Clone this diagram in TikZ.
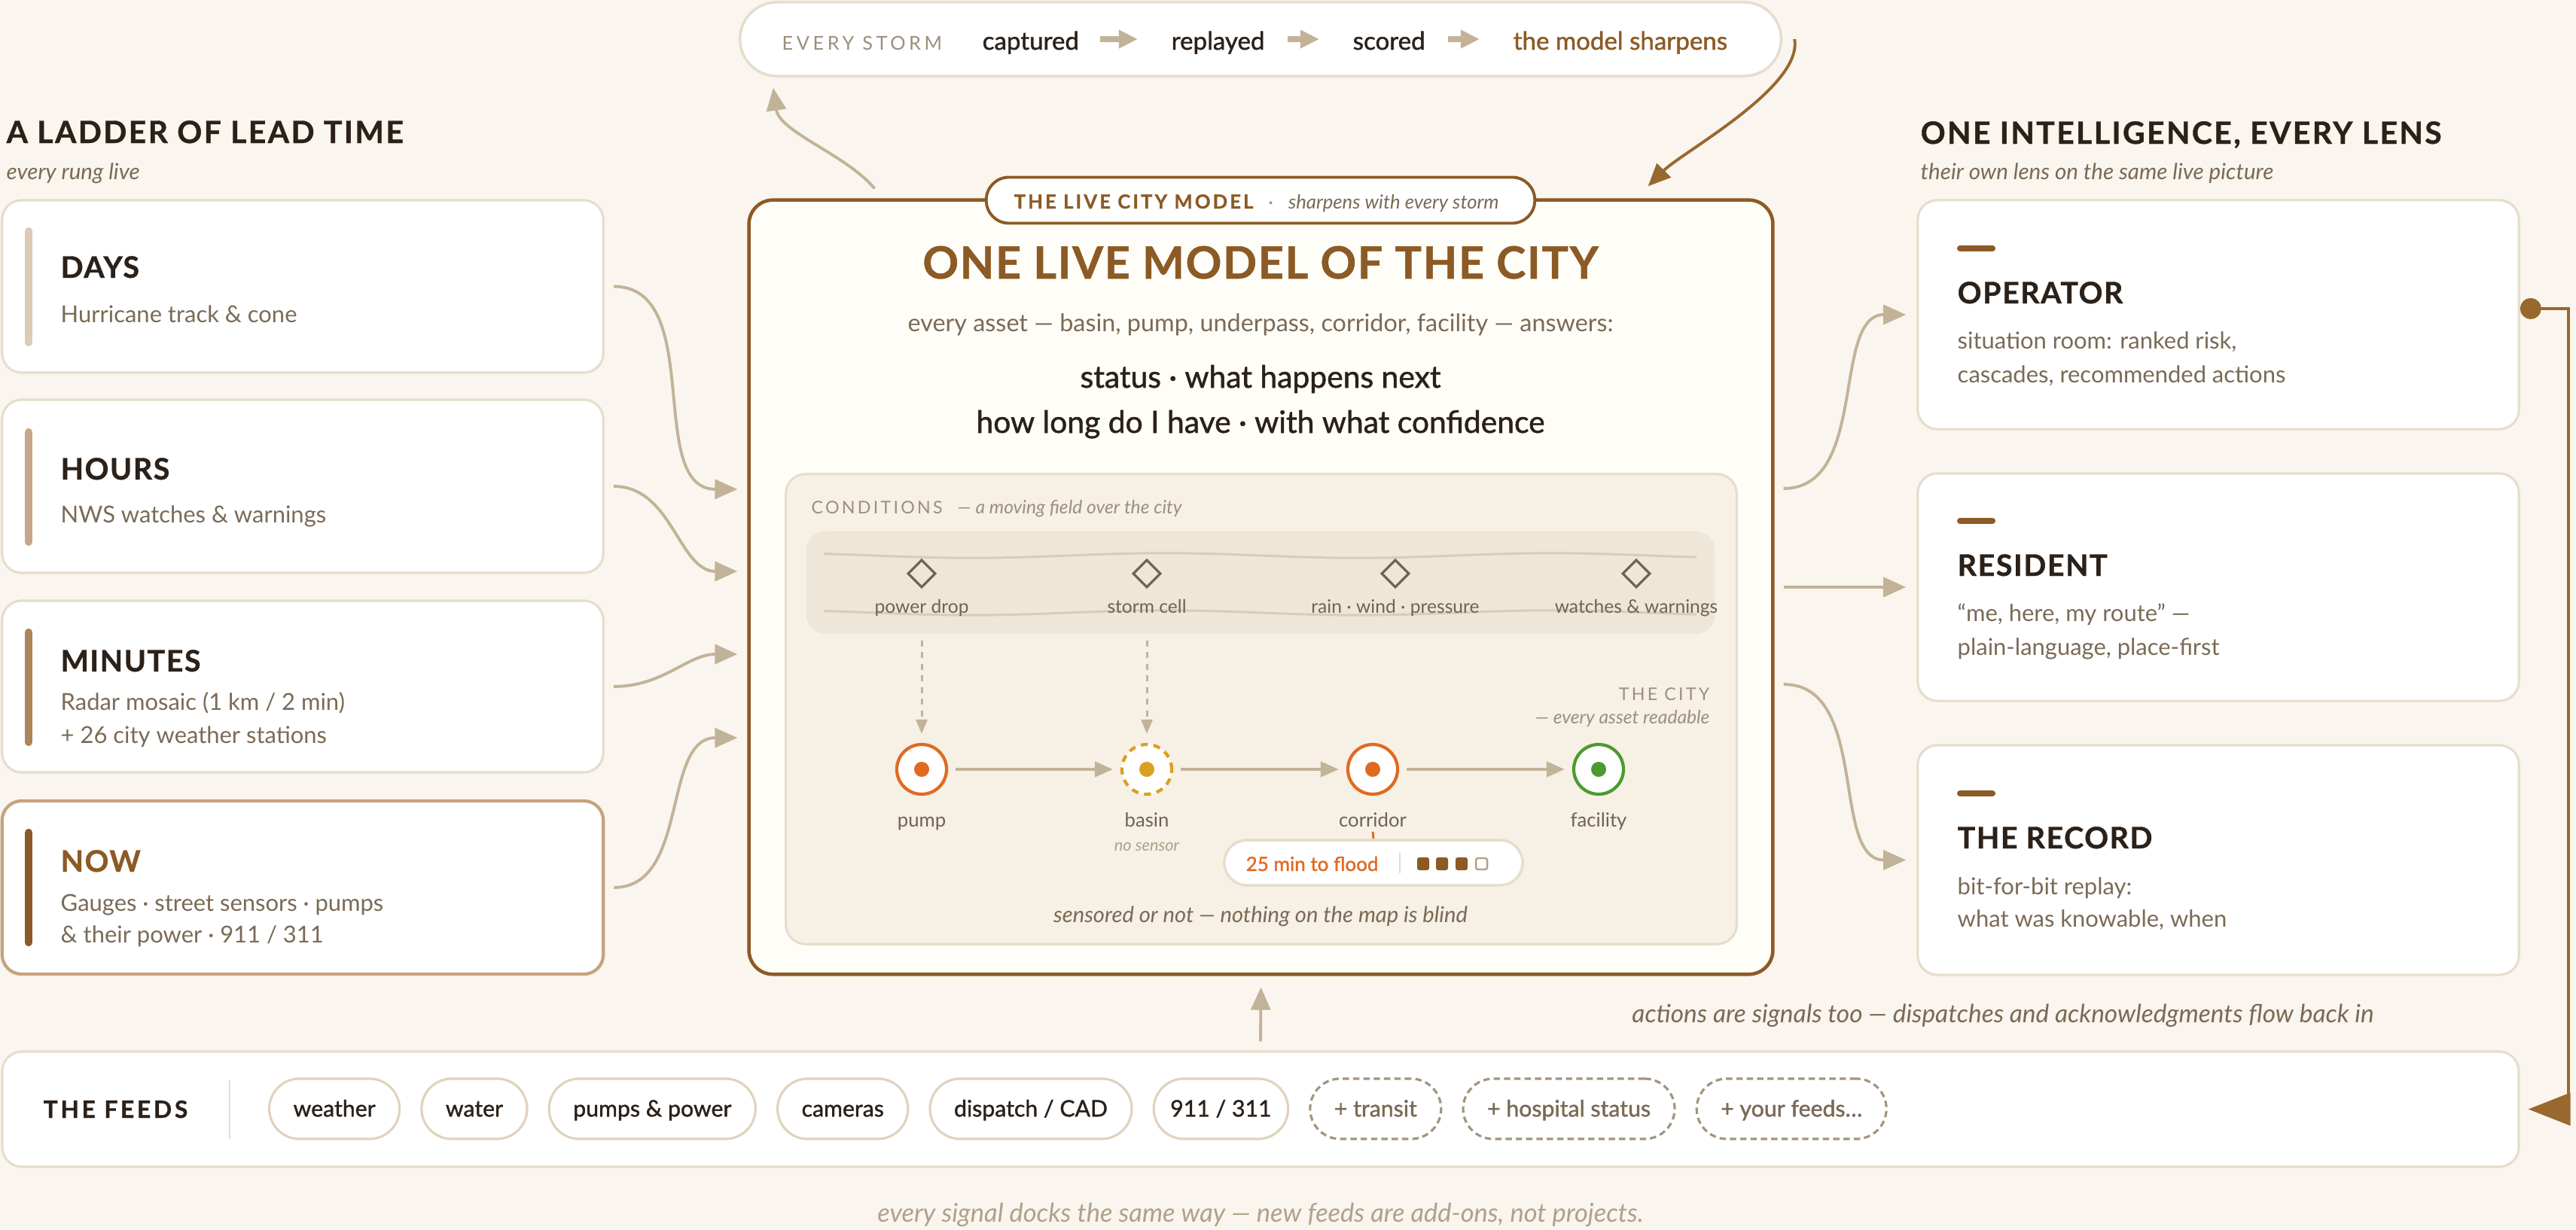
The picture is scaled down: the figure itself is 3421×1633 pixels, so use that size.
\documentclass[tikz,border=0pt]{standalone}
\usepackage{fontspec}
\setmainfont{Lato}[BoldFeatures={FakeBold=0.9}]
\newfontfamily\mediumfont{Lato}[FakeBold=1.3]
\usetikzlibrary{arrows.meta, positioning, shapes.geometric}

% palette
\definecolor{paper}{HTML}{FAF5EE}
\definecolor{ink}{HTML}{2B2119}
\definecolor{body}{HTML}{7A6A56}
\definecolor{muted}{HTML}{9C8F7B}
\definecolor{faint}{HTML}{AFA18B}
\definecolor{label}{HTML}{6F6353}
\definecolor{rim}{HTML}{E6DDCC}
\definecolor{chiprim}{HTML}{E0D3BE}
\definecolor{addrim}{HTML}{A39480}
\definecolor{tanline}{HTML}{C2B398}
\definecolor{brownA}{HTML}{8C5A24}
\definecolor{brownB}{HTML}{98682F}
\definecolor{creamA}{HTML}{FFFDF8}
\definecolor{panel}{HTML}{F6F0E5}
\definecolor{band}{HTML}{EEE6D6}
\definecolor{waveline}{HTML}{D8CCB6}
\definecolor{condline}{HTML}{6F6353}
\definecolor{orangeA}{HTML}{E06A22}
\definecolor{amberA}{HTML}{D9A021}
\definecolor{greenA}{HTML}{4C9A30}
\definecolor{barA}{HTML}{DCCBB8}
\definecolor{barB}{HTML}{C4A888}
\definecolor{barC}{HTML}{AE8459}
\definecolor{nowrim}{HTML}{C4A37F}

\newcommand{\spaced}[2][10]{{\addfontfeature{LetterSpace=#1}#2}}

\tikzset{
  % boxes
  card/.style={rectangle, draw=rim, line width=0.9pt, fill=white, rounded corners=0.26cm, minimum width=7.98cm},
  pill/.style={rectangle, draw=rim, line width=1pt, fill=white, rounded corners=#1},
  rungbar/.style={line width=2.9pt, line cap=round},
  lensdash/.style={draw=brownA, line width=2.3pt, line cap=round},
  % text
  hd/.style={anchor=base west, inner sep=0, text=ink, font=\bfseries\fontsize{11.6}{13}\selectfont},
  subhd/.style={anchor=base west, inner sep=0, text=body, font=\itshape\fontsize{8.4}{10}\selectfont},
  cardhd/.style={anchor=base west, inner sep=0, text=ink, font=\bfseries\fontsize{11.2}{12}\selectfont},
  cardtx/.style={anchor=base west, inner sep=0, text=body, font=\fontsize{8.8}{10}\selectfont},
  loopword/.style={anchor=base west, inner sep=0, text=ink, font=\mediumfont\fontsize{9.4}{11}\selectfont},
  capslbl/.style={inner sep=0, text=muted, font=\fontsize{#1}{8}\selectfont},
  small/.style={anchor=base, inner sep=0, text=label, font=\fontsize{7}{8}\selectfont},
  smallit/.style={inner sep=0, text=muted, font=\itshape\fontsize{7}{8}\selectfont},
  % connectors
  flow/.style={draw=tanline, line width=1.1pt, -{Triangle[length=0.3cm, width=0.26cm]}},
  cityflow/.style={draw=tanline, line width=1.3pt, -{Triangle[length=0.24cm, width=0.2cm]}, shorten <=0.1cm, shorten >=0.1cm},
  dropflow/.style={draw=tanline, line width=0.85pt, dash pattern=on 2.3pt off 2.1pt, -{Triangle[length=0.19cm, width=0.15cm]}},
  steptip/.style={draw=tanline, line width=2.2pt, -{Triangle[length=0.25cm, width=0.23cm]}},
  loopback/.style={draw=brownB, line width=1.1pt, {Circle[length=0.28cm]}-{Triangle[length=0.56cm, width=0.43cm]}, shorten >=0.11cm},
  wave/.style={draw=waveline, line width=0.85pt},
  % map symbols
  cond/.style={diamond, aspect=1, draw=condline, line width=0.9pt, fill=band, minimum size=0.37cm, inner sep=0},
  asset/.style={circle, draw=#1, line width=1.2pt, fill=white, minimum size=0.66cm, inner sep=0,
    path picture={\fill[#1] (path picture bounding box.center) circle (0.1cm);}},
  chip/.style={rectangle, draw=chiprim, line width=0.9pt, fill=white, rounded corners=0.4cm, minimum height=0.8cm,
    inner xsep=0.32cm, text height=1.6ex, text depth=0.45ex, text=ink, font=\mediumfont\fontsize{8.6}{10}\selectfont},
  addchip/.style={chip, draw=addrim, dash pattern=on 2.4pt off 1.5pt, text=body}
}

\begin{document}
\begin{tikzpicture}[x=0.01cm, y=-0.01cm]
  % page
  \fill[paper] (0,0) rectangle (3421,1633);
  \useasboundingbox (0,0) rectangle (3421,1633);

  % storm loop
  \node[pill=0.49cm, minimum width=13.82cm, minimum height=0.98cm] (loop) at (1674,52) {};
  \node[capslbl=7.2, anchor=base west] (wevery) at (1038,66) {\spaced[18]{EVERY STORM}};
  \node[loopword] (wcapt) at (1304,66) {captured};
  \node[loopword] (wrepl) at (1555,66) {replayed};
  \node[loopword] (wscor) at (1796,66) {scored};
  \node[loopword, text=brownA] (wsharp) at (2009,66) {the model sharpens};
  \draw[steptip, shorten <=0.27cm, shorten >=0.44cm] (wcapt.east |- loop.center) -- (wrepl.west |- loop.center);
  \draw[steptip, shorten <=0.3cm, shorten >=0.44cm] (wrepl.east |- loop.center) -- (wscor.west |- loop.center);
  \draw[steptip, shorten <=0.3cm, shorten >=0.44cm] (wscor.east |- loop.center) -- (wsharp.west |- loop.center);

  % left column: lead time
  \node[hd] (ladderhd) at (8,190) {\spaced[6]{A LADDER OF LEAD TIME}};
  \node[subhd] (laddersub) at (8,238) {every rung live};

  \node[card, minimum height=2.29cm] (days) at (402,380.5) {};
  \node[card, minimum height=2.30cm] (hours) at (402,646) {};
  \node[card, minimum height=2.28cm] (minutes) at (402,912) {};
  \node[card, draw=nowrim, line width=1.2pt, minimum height=2.30cm] (now) at (402,1179) {};

  \draw[rungbar, barA] (38,307) -- (38,455);
  \draw[rungbar, barB] (38,574) -- (38,720);
  \draw[rungbar, barC] (38,840) -- (38,986);
  \draw[rungbar, brownA] (38,1106) -- (38,1252);

  \node[cardhd] (daysttl) at (80,369) {\spaced[4]{DAYS}};
  \node[cardtx] (daystx) at (80,428) {Hurricane track \& cone};
  \node[cardhd] (hoursttl) at (80,637) {\spaced[4]{HOURS}};
  \node[cardtx] (hourstx) at (80,694) {NWS watches \& warnings};
  \node[cardhd] (minttl) at (80,892) {\spaced[4]{MINUTES}};
  \node[cardtx] (mintxa) at (80,943) {Radar mosaic (1 km / 2 min)};
  \node[cardtx] (mintxb) at (80,987) {+ 26 city weather stations};
  \node[cardhd, text=brownA] (nowttl) at (80,1158) {\spaced[4]{NOW}};
  \node[cardtx] (nowtxa) at (80,1210) {Gauges · street sensors · pumps};
  \node[cardtx] (nowtxb) at (80,1252) {\& their power · 911 / 311};

  % central model
  \node[rectangle, draw=brownA, line width=1.3pt, fill=creamA, rounded corners=0.32cm,
        minimum width=13.59cm, minimum height=10.28cm] (main) at (1674.5,780) {};
  \node[rectangle, draw=brownA, line width=1.1pt, fill=white, rounded corners=0.3cm,
        minimum width=7.28cm, minimum height=0.61cm] (badge) at (1674,266) {};
  \node[anchor=base west, inner sep=0, font=\fontsize{7.3}{8}\selectfont] (badgetx) at (1346,277)
        {\textcolor{brownA}{\bfseries\spaced[12]{THE LIVE CITY MODEL}}\hspace{0.2cm}\textcolor{muted}{·}\hspace{0.2cm}\textcolor{body}{\itshape sharpens with every storm}};

  \node[anchor=base, inner sep=0, text=brownA, font=\bfseries\fontsize{16.8}{20}\selectfont] (mtitle) at (1674,370) {\spaced[3]{ONE LIVE MODEL OF THE CITY}};
  \node[anchor=base, inner sep=0, text=body, font=\fontsize{9.2}{11}\selectfont] (masset) at (1674,440) {every asset — basin, pump, underpass, corridor, facility — answers:};
  \node[anchor=base, inner sep=0, text=ink, font=\mediumfont\fontsize{11.6}{13}\selectfont] (mqa) at (1674,515) {status · what happens next};
  \node[anchor=base, inner sep=0, text=ink, font=\mediumfont\fontsize{11.6}{13}\selectfont] (mqb) at (1674,575) {how long do I have · with what confidence};

  % conditions and city panel
  \node[rectangle, draw=rim, line width=0.9pt, fill=panel, rounded corners=0.26cm,
        minimum width=12.62cm, minimum height=6.24cm] (mappanel) at (1675,942) {};
  \node[anchor=base west, inner sep=0, text=muted, font=\fontsize{6.6}{8}\selectfont] (condhd) at (1077,682)
        {\spaced[14]{CONDITIONS}\hspace{0.2cm}{\itshape\fontsize{7}{8}\selectfont — a moving field over the city}};
  \node[rectangle, fill=band, rounded corners=0.25cm, minimum width=12.06cm, minimum height=1.36cm] (band) at (1674,774) {};
  \draw[wave] plot[domain=1094:2253, samples=90, smooth] (\x, {738+3.2*sin(0.7*(\x-1094)-47)});
  \draw[wave] plot[domain=1094:2253, samples=90, smooth] (\x, {814+3.2*sin(0.7*(\x-1094)-47)});

  \node[cond] (cpower) at (1224,762) {};
  \node[cond] (cstorm) at (1523,762) {};
  \node[cond] (crain) at (1853,762) {};
  \node[cond] (cwatch) at (2173,762) {};
  \node[small] (lpower) at (1224,814) {power drop};
  \node[small] (lstorm) at (1523,814) {storm cell};
  \node[small] (lrain) at (1853,814) {rain · wind · pressure};
  \node[small] (lwatch) at (2173,814) {watches \& warnings};

  \node[anchor=base east, inner sep=0, text=muted, font=\fontsize{6.6}{8}\selectfont] (cityhd) at (2271,930) {\spaced[14]{THE CITY}};
  \node[smallit, anchor=base east] (citysub) at (2271,961) {— every asset readable};

  \node[asset=orangeA] (pump) at (1224,1022) {};
  \node[asset=amberA, dash pattern=on 2.6pt off 2.2pt] (basin) at (1523,1022) {};
  \node[asset=orangeA] (corridor) at (1823,1022) {};
  \node[asset=greenA] (facility) at (2123,1022) {};

  \draw[dropflow] (band.south -| cpower) ++(0,8) -- ([yshift=0.12cm]pump.north);
  \draw[dropflow] (band.south -| cstorm) ++(0,8) -- ([yshift=0.12cm]basin.north);
  \draw[cityflow] (pump) -- (basin);
  \draw[cityflow] (basin) -- (corridor);
  \draw[cityflow] (corridor) -- (facility);

  \node[small, font=\fontsize{7.3}{8}\selectfont] (lpump) at (1224,1098) {pump};
  \node[small, font=\fontsize{7.3}{8}\selectfont] (lbasin) at (1523,1098) {basin};
  \node[small, font=\fontsize{7.3}{8}\selectfont] (lcorridor) at (1823,1098) {corridor};
  \node[small, font=\fontsize{7.3}{8}\selectfont] (lfacility) at (2123,1098) {facility};
  \node[smallit, anchor=base, font=\itshape\fontsize{6.2}{7}\selectfont, text=faint] (nosensor) at (1523,1130) {no sensor};

  % time to flood readout
  \node[pill=0.3cm, minimum width=3.96cm, minimum height=0.6cm] (flood) at (1824,1146) {};
  \draw[orangeA, line width=0.8pt] (lcorridor.south) ++(0,6) -- (flood.north);
  \node[anchor=base west, inner sep=0, text=orangeA, font=\mediumfont\fontsize{7.4}{8}\selectfont] (floodtx) at (1654,1157) {25 min to flood};
  \draw[rim, line width=0.8pt] (1859,1132) -- (1859,1160);
  \foreach \sx in {1890,1915,1941}
    \fill[brownA, rounded corners=0.8pt] ({\sx-8},1139) rectangle ({\sx+8},1156);
  \draw[brownA!60, line width=0.7pt, rounded corners=0.8pt] (1960,1140) rectangle (1975,1155);

  \node[anchor=base, inner sep=0, text=body, font=\itshape\fontsize{8.3}{10}\selectfont] (blind) at (1674,1225) {sensored or not — nothing on the map is blind};

  % right column: lenses
  \node[hd] (lenshd) at (2550,191) {\spaced[6]{ONE INTELLIGENCE, EVERY LENS}};
  \node[subhd] (lenssub) at (2550,238) {their own lens on the same live picture};

  \node[card, minimum height=3.04cm] (operator) at (2946,418) {};
  \node[card, minimum height=3.02cm] (resident) at (2946,780) {};
  \node[card, minimum height=3.05cm] (record) at (2946,1142.5) {};

  \draw[lensdash] (2603,330) -- (2646,330);
  \draw[lensdash] (2603,692) -- (2646,692);
  \draw[lensdash] (2603,1054) -- (2646,1054);

  \node[cardhd] (opttl) at (2599,403) {\spaced[4]{OPERATOR}};
  \node[cardtx] (optxa) at (2599,463) {situation room: ranked risk,};
  \node[cardtx] (optxb) at (2599,508) {cascades, recommended actions};
  \node[cardhd] (resttl) at (2599,765) {\spaced[4]{RESIDENT}};
  \node[cardtx] (restxa) at (2599,825) {“me, here, my route” —};
  \node[cardtx] (restxb) at (2599,870) {plain-language, place-first};
  \node[cardhd] (recttl) at (2599,1127) {\spaced[4]{THE RECORD}};
  \node[cardtx] (rectxa) at (2599,1188) {bit-for-bit replay:};
  \node[cardtx] (rectxb) at (2599,1231) {what was knowable, when};

  % rungs into the model
  \draw[flow] ([xshift=0.12cm]days.east) to[out=0, in=180] ([xshift=-0.13cm, yshift=1.3cm]main.west);
  \draw[flow] ([xshift=0.12cm]hours.east) to[out=0, in=180] ([xshift=-0.13cm, yshift=0.21cm]main.west);
  \draw[flow] ([xshift=0.12cm]minutes.east) to[out=0, in=180] ([xshift=-0.13cm, yshift=-0.89cm]main.west);
  \draw[flow] ([xshift=0.12cm]now.east) to[out=0, in=180] ([xshift=-0.13cm, yshift=-2.0cm]main.west);

  % model out to the lenses
  \draw[flow, shorten >=0.14cm] ([xshift=0.12cm, yshift=1.31cm]main.east) to[out=0, in=180] (operator.west);
  \draw[flow, shorten >=0.14cm] ([xshift=0.12cm]main.east) -- (resident.west);
  \draw[flow, shorten >=0.14cm] ([xshift=0.12cm, yshift=-1.29cm]main.east) to[out=0, in=180] (record.west);

  % learning loop over the top
  \draw[flow] ([xshift=1.69cm, yshift=0.13cm]main.north west) to[out=130, in=-82, looseness=0.8] ([xshift=0.46cm, yshift=-0.14cm]loop.south west);
  \draw[flow, draw=brownB] ([xshift=0.16cm]loop.east) to[out=-80, in=45, looseness=0.6] ([xshift=-1.68cm, yshift=0.16cm]main.north east);

  % the feeds
  \node[card, minimum width=33.4cm, minimum height=1.53cm] (feeds) at (1674,1473.5) {};
  \node[anchor=base west, inner sep=0, text=ink, font=\bfseries\fontsize{9}{10}\selectfont] (feedshd) at (57,1485) {\spaced[12]{THE FEEDS}};
  \draw[rim, line width=0.8pt] (305,1435) -- (305,1513);
  \node[chip, anchor=west] (fweather) at (356,1473) {weather};
  \node[chip, right=0.26cm of fweather] (fwater) {water};
  \node[chip, right=0.26cm of fwater] (fpumps) {pumps \& power};
  \node[chip, right=0.26cm of fpumps] (fcams) {cameras};
  \node[chip, right=0.26cm of fcams] (fcad) {dispatch / CAD};
  \node[chip, right=0.26cm of fcad, inner xsep=0.22cm] (fcalls) {911 / 311};
  \node[addchip, right=0.26cm of fcalls] (ftransit) {+ transit};
  \node[addchip, right=0.26cm of ftransit] (fhosp) {+ hospital status};
  \node[addchip, right=0.26cm of fhosp] (fyours) {+ your feeds…};

  \draw[flow] ([yshift=0.12cm]feeds.north) -- ([yshift=-0.15cm]main.south);

  % actions flow back in
  \draw[loopback] ([yshift=0.08cm]operator.east) -- ++(0.64cm,0) |- (feeds.east);
  \node[anchor=base, inner sep=0, text=body, font=\itshape\fontsize{9.5}{11}\selectfont] (backin) at (2660,1358) {actions are signals too — dispatches and acknowledgments flow back in};

  \node[anchor=base, inner sep=0, text=faint, font=\itshape\fontsize{9.8}{11}\selectfont] (docks) at (1674,1623) {every signal docks the same way — new feeds are add-ons, not projects.};
\end{tikzpicture}
\end{document}
